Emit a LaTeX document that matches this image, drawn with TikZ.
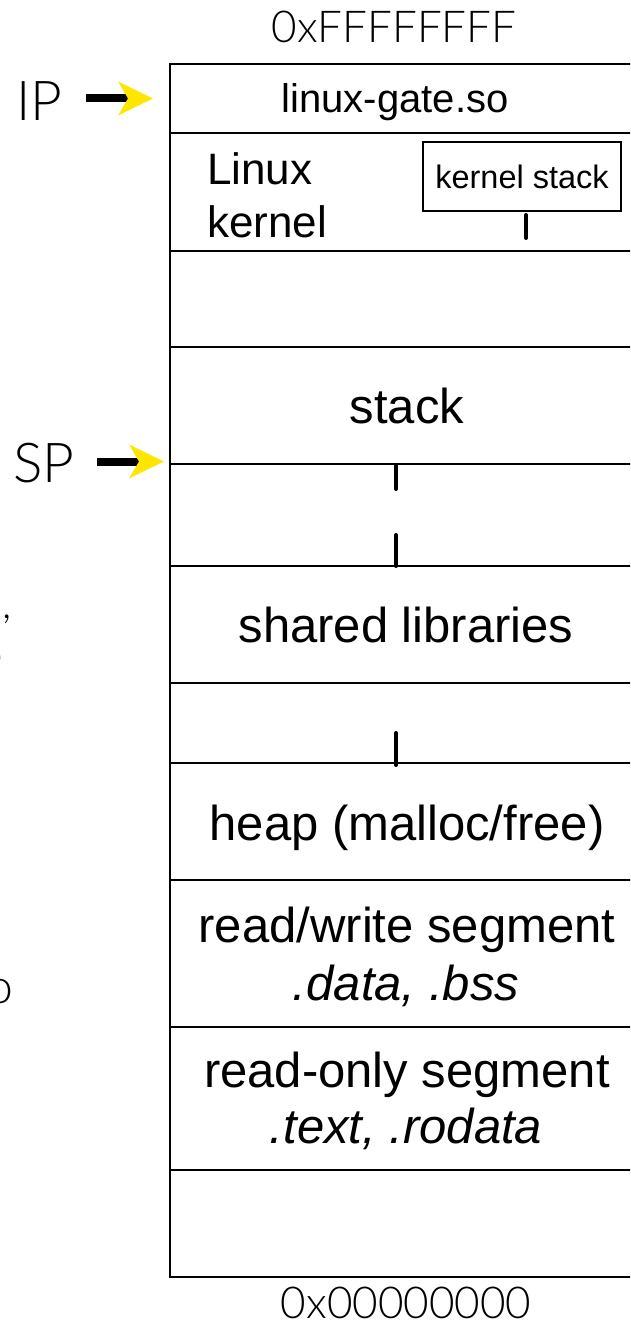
\documentclass[tikz,border=0pt]{standalone}
\usepackage{fontspec}
\setmainfont{Liberation Sans}
\newfontfamily\thinfont{Lato Light}
\usetikzlibrary{arrows.meta}
\definecolor{ptryellow}{RGB}{255,230,0}
\begin{document}
\begin{tikzpicture}[x=1pt,y=-1pt,
  seg/.style={inner sep=0pt, anchor=base, font=\fontsize{49}{55}\selectfont},
  segit/.style={seg, font=\fontsize{49}{55}\selectfont\itshape},
  addr/.style={inner sep=0pt, anchor=base, font=\fontsize{44}{50}\selectfont\thinfont},
  reg/.style={inner sep=0pt, anchor=base west, font=\fontsize{55}{60}\selectfont\thinfont},
  frag/.style={inner sep=0pt, anchor=base east, font=\fontsize{42}{48}\selectfont\thinfont},
  memline/.style={line width=2pt},
  growtick/.style={line width=4pt, line cap=round},
  ptr/.style={line width=8pt, -{Stealth[length=35pt, width=34pt, inset=10pt, color=ptryellow, line width=0pt]}},
]
\useasboundingbox (0,0) rectangle (630,1324);
\clip (0,0) rectangle (630,1324);

% address labels
\node[addr] (top) at (394,43) {0xFFFFFFFF};
\node[addr] (bot) at (406,1318) {0x00000000};

% memory column
\draw[memline] (170,64) rectangle (660,1277);
\foreach \yy in {133,251,347,464,566,683,763,880,1027,1170}
  \draw[memline] (170,\yy) -- (660,\yy);

% segment labels
\node[inner sep=0pt, anchor=base, font=\fontsize{40}{46}\selectfont] (gate) at (395,113) {linux-gate.so};
\node[inner sep=0pt, anchor=base west, font=\fontsize{44}{50}\selectfont] (linux) at (207,185) {Linux};
\node[inner sep=0pt, anchor=base west, font=\fontsize{44}{50}\selectfont] (kern) at (207,238) {kernel};
\node[draw, line width=1.5pt, inner sep=0pt, minimum width=198pt, minimum height=69pt,
      font=\fontsize{32.5}{36}\selectfont] (kstack) at (522,176.5) {kernel stack};
\node[seg] (stack) at (407,423) {stack};
\node[seg] (shlib) at (406,642) {shared libraries};
\node[seg] (heap) at (407,840) {heap (malloc/free)};
\node[seg] (rw) at (407,942) {read/write segment};
\node[segit] (rwsec) at (406,1000) {.data, .bss};
\node[seg] (ro) at (407,1087) {read-only segment};
\node[segit] (rosec) at (406,1143) {.text, .rodata};

% growth ticks
\draw[growtick] (526,215) -- (526,238);
\draw[growtick] (396,466) -- (396,489);
\draw[growtick] (396,535) -- (396,566);
\draw[growtick] (396,733) -- (396,765);

% registers
\node[reg] (ip) at (16,121) {IP};
\node[reg] (sp) at (13,482) {SP};
\coordinate (ipS) at (86,98.5);
\coordinate (ipT) at (153,98.5);
\coordinate (spS) at (97,461.5);
\coordinate (spT) at (164,461.5);
\draw[ptr] (ipS) -- (ipT);
\draw[ptr] (spS) -- (spT);

% clipped text from the neighbouring column
\node[frag] (f1) at (12,618) {e,};
\node[frag] (f2) at (3,668) {o};
\node[frag, font=\fontsize{48}{52}\selectfont\thinfont] (f3) at (13,1003) {o};
\end{tikzpicture}
\end{document}
